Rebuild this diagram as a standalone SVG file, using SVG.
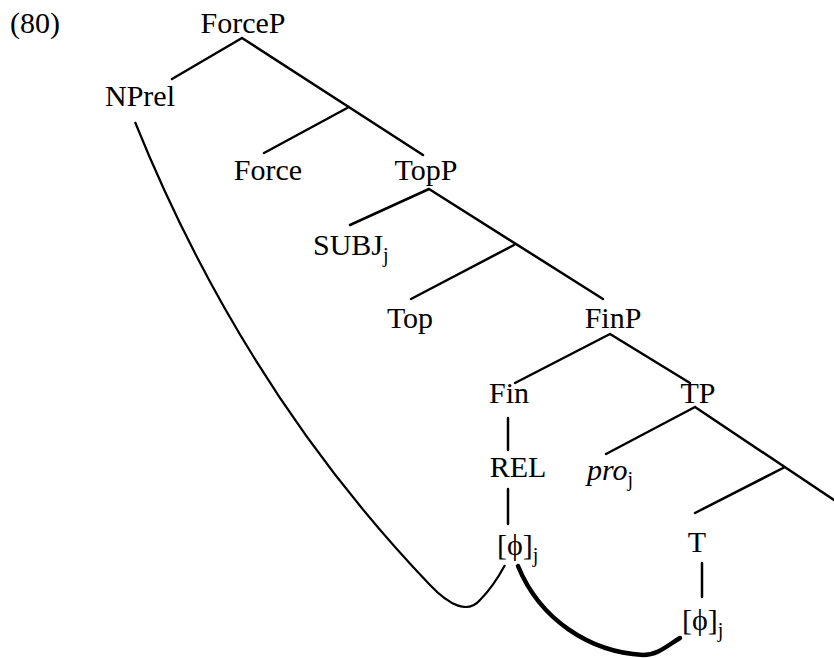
<svg xmlns="http://www.w3.org/2000/svg" width="834" height="658" viewBox="0 0 834 658">
<style>
text{font-size:30px;fill:#000}
.m{text-anchor:middle}
.s{font-size:20px}
.e{stroke:#000;stroke-width:2.5;fill:none;stroke-linecap:round}
.c{stroke:#000;stroke-width:2.2;fill:none}
.ct{stroke:#000;stroke-width:4.5;fill:none;stroke-linecap:round}
</style>
<rect width="834" height="658" fill="#fff"/>
<g font-family="'Liberation Serif', 'DejaVu Serif', serif">
<text x="10" y="33">(80)</text>
<g id="ForceP"><text class="m" x="243" y="33">ForceP</text></g>
<g id="NPrel"><text class="m" x="140" y="106">NPrel</text></g>
<g id="Force"><text class="m" x="268" y="180">Force</text></g>
<g id="TopP"><text class="m" x="426" y="180">TopP</text></g>
<g id="SUBJ"><text x="313" y="255">SUBJ<tspan class="s" dy="7">j</tspan></text></g>
<g id="Top"><text class="m" x="410" y="328">Top</text></g>
<g id="FinP"><text class="m" x="613" y="328">FinP</text></g>
<g id="Fin"><text class="m" x="509" y="403">Fin</text></g>
<g id="TP"><text class="m" x="698" y="403">TP</text></g>
<g id="REL"><text class="m" x="518" y="477">REL</text></g>
<g id="pro"><text x="587" y="480"><tspan font-style="italic">pro</tspan><tspan class="s" dy="6">j</tspan></text></g>
<g id="phi1"><text x="497" y="555">[ϕ]<tspan class="s" dy="7">j</tspan></text></g>
<g id="T"><text class="m" x="697" y="552">T</text></g>
<g id="phi2"><text x="682" y="630">[ϕ]<tspan class="s" dy="7">j</tspan></text></g>
</g>
<g id="connectors">
<path class="e" d="M242,38 L172,79 M242,38 L423,155 M349,107 L264,153"/>
<path class="e" d="M429,189 L350,225 M429,189 L603,299 M514,245 L411,299"/>
<path class="e" d="M610,334 L515,383 M610,334 L690,383"/>
<path class="e" d="M508,418 L508,450 M508,489 L508,524"/>
<path class="e" d="M695,407 L606,454 M695,407 L834,500 M785,467 L695,513"/>
<path class="e" d="M702,563 L702,597"/>
<path class="c" d="M135,122 C215,320 320,470 430,585 C450,606 468,614 480,600 C490,590 498,578 505,565"/>
<path class="ct" d="M518,566 C540,620 590,652 643,655 C658,655 668,645 680,638"/>
</g>
</svg>
